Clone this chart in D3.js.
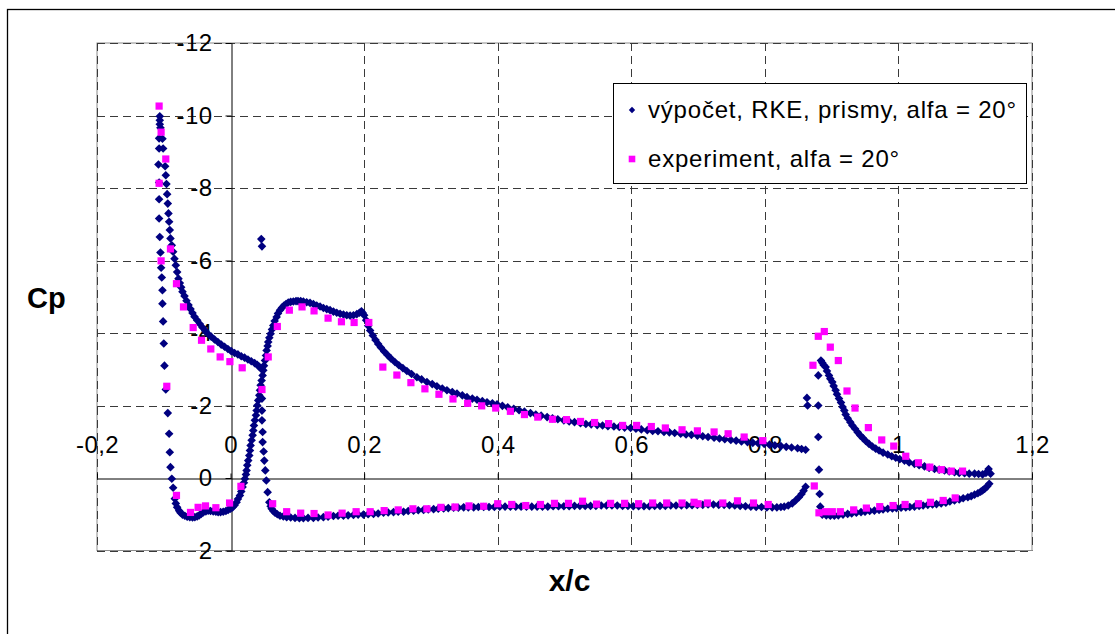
<!DOCTYPE html>
<html>
<head>
<meta charset="utf-8">
<script src="https://cdn.jsdelivr.net/npm/d3@7"></script>
<style>
    body { margin: 0; background: #fff; }
    svg { display: block; font-family: "Liberation Sans", Arial, sans-serif; }
</style>
</head>
<body>
<svg id="chart"></svg>
<script>
const xTicks = [-0.2, 0, 0.2, 0.4, 0.6, 0.8, 1, 1.2];
const yTicks = [-12, -10, -8, -6, -4, -2, 0, 2];
const seriesNames = ["výpočet, RKE, prismy, alfa = 20°", "experiment, alfa = 20°"];

// výpočet (computed) as [x/c, Cp]
const calcSlatUpper = [
    [-0.106,-9.98],[-0.106,-9.87],[-0.106,-9.76],[-0.105,-9.66],[-0.102,-9.36],[-0.101,-9.09],[-0.098,-8.60],
    [-0.097,-8.35],[-0.096,-8.11],[-0.095,-7.83],[-0.094,-7.57],[-0.093,-7.30],[-0.092,-7.07],[-0.091,-6.84],
    [-0.090,-6.61],[-0.088,-6.42],[-0.086,-6.24],[-0.084,-6.05],[-0.082,-5.87],[-0.080,-5.68],[-0.078,-5.50],
    [-0.076,-5.38],[-0.074,-5.26],[-0.072,-5.14],[-0.069,-5.02],[-0.066,-4.89],[-0.063,-4.77],[-0.060,-4.66],
    [-0.057,-4.55],[-0.054,-4.45],[-0.050,-4.35],[-0.046,-4.25],[-0.042,-4.15],[-0.038,-4.06],[-0.034,-3.98],
    [-0.029,-3.90],[-0.024,-3.82],[-0.019,-3.75],[-0.014,-3.68],[-0.009,-3.62],[-0.004,-3.56],[0.001,-3.50],
    [0.006,-3.45],[0.011,-3.41],[0.016,-3.36],[0.021,-3.32],[0.026,-3.27],[0.031,-3.22],[0.036,-3.17],
    [0.040,-3.12],[0.043,-3.07],[0.046,-3.01]
];
const calcSlatLower = [
    [-0.107,-9.37],[-0.107,-9.09],[-0.108,-8.65],[-0.107,-8.15],[-0.107,-7.69],[-0.107,-7.16],[-0.106,-6.65],
    [-0.105,-6.22],[-0.104,-5.80],[-0.103,-5.53],[-0.102,-5.18],[-0.102,-4.81],[-0.101,-4.32],[-0.100,-3.71],
    [-0.099,-3.10],[-0.097,-2.44],[-0.094,-1.79],[-0.092,-1.22],[-0.091,-0.71],[-0.090,-0.30],[-0.088,0.02],
    [-0.086,0.27],[-0.0835,0.57],[-0.082,0.70],[-0.080,0.81],[-0.077,0.90],[-0.075,0.96],[-0.072,1.01],
    [-0.0685,1.04],[-0.065,1.07],[-0.061,1.08],[-0.057,1.09],[-0.0535,1.08],[-0.050,1.06],[-0.047,1.03],
    [-0.044,0.99],[-0.041,0.95],[-0.037,0.92],[-0.0335,0.90],[-0.030,0.91],[-0.026,0.92],[-0.022,0.93],
    [-0.0186,0.94],[-0.015,0.94],[-0.011,0.93],[-0.007,0.91],[-0.0036,0.88]
];
const calcMainUpper = [
    [0.000,0.85],[0.003,0.81],[0.006,0.75],[0.009,0.67],[0.011,0.58],[0.014,0.48],[0.016,0.37],[0.018,0.25],
    [0.020,0.13],[0.0215,0.02],[0.023,-0.10],[0.024,-0.21],[0.025,-0.35],[0.0264,-0.48],[0.028,-0.62],
    [0.029,-0.76],[0.030,-0.90],[0.0315,-1.04],[0.033,-1.18],[0.034,-1.31],[0.035,-1.45],[0.0364,-1.59],
    [0.038,-1.73],[0.039,-1.86],[0.040,-2.00],[0.0414,-2.14],[0.043,-2.28],[0.044,-2.42],[0.045,-2.56],
    [0.0465,-2.69],[0.048,-2.83],[0.049,-2.97],[0.050,-3.10],[0.0515,-3.24],[0.053,-3.38],[0.054,-3.52],
    [0.0555,-3.64],[0.0564,-3.75],[0.058,-3.87],[0.060,-3.98],[0.062,-4.10],[0.064,-4.21],[0.066,-4.33],
    [0.069,-4.44],[0.071,-4.54],[0.074,-4.63],[0.077,-4.70],[0.080,-4.76],[0.083,-4.80],[0.0864,-4.84],
    [0.090,-4.86],[0.094,-4.87],[0.098,-4.88],[0.101,-4.88],[0.105,-4.88],[0.109,-4.87],[0.114,-4.85],
    [0.119,-4.83],[0.124,-4.80],[0.129,-4.76],[0.134,-4.73],[0.139,-4.69],[0.144,-4.66],[0.149,-4.63],
    [0.154,-4.59],[0.159,-4.56],[0.164,-4.53],[0.169,-4.51],[0.174,-4.49],[0.179,-4.48],[0.184,-4.49],
    [0.189,-4.52],[0.193,-4.56],[0.196,-4.60],[0.198,-4.55],[0.200,-4.49],[0.203,-4.35],[0.206,-4.20],
    [0.209,-4.07],[0.213,-3.93],[0.217,-3.81],[0.221,-3.70],[0.225,-3.60],[0.230,-3.49],[0.235,-3.39],
    [0.240,-3.30],[0.246,-3.20],[0.252,-3.11],[0.258,-3.03],[0.264,-2.95],[0.271,-2.87],[0.279,-2.78],
    [0.286,-2.72],[0.294,-2.65],[0.302,-2.59],[0.309,-2.53],[0.317,-2.47],[0.324,-2.42],[0.332,-2.37],
    [0.339,-2.33],[0.347,-2.28],[0.354,-2.23],[0.362,-2.19],[0.369,-2.16],[0.377,-2.12],[0.384,-2.09],
    [0.392,-2.06],[0.399,-2.03],[0.407,-1.99],[0.415,-1.95],[0.424,-1.91],[0.432,-1.87],[0.440,-1.83],
    [0.449,-1.79],[0.457,-1.75],[0.465,-1.72],[0.474,-1.68],[0.482,-1.65],[0.490,-1.62],[0.499,-1.59],
    [0.507,-1.56],[0.515,-1.54],[0.524,-1.51],[0.532,-1.49],[0.540,-1.48],[0.549,-1.46],[0.557,-1.45],
    [0.565,-1.43],[0.574,-1.42],[0.582,-1.41],[0.590,-1.39],[0.599,-1.38],[0.607,-1.36],[0.615,-1.34],
    [0.624,-1.32],[0.632,-1.30],[0.640,-1.29],[0.649,-1.27],[0.657,-1.26],[0.665,-1.24],[0.674,-1.22],
    [0.682,-1.20],[0.690,-1.19],[0.699,-1.17],[0.707,-1.15],[0.715,-1.13],[0.724,-1.11],[0.732,-1.09],
    [0.740,-1.07],[0.749,-1.05],[0.757,-1.03],[0.765,-1.01],[0.774,-0.99],[0.782,-0.97],[0.790,-0.96],
    [0.799,-0.94],[0.807,-0.92],[0.815,-0.90],[0.824,-0.88],[0.832,-0.86],[0.840,-0.84],[0.849,-0.82],
    [0.855,-0.80],[0.861,-0.78]
];
const calcMainLower = [
    [0.046,-6.59],[0.047,-6.39],[0.047,-2.19],[0.047,-1.86],[0.047,-1.59],[0.048,-1.27],[0.048,-0.99],
    [0.0495,-0.73],[0.0505,-0.48],[0.052,-0.21],[0.0535,0.07],[0.0555,0.39],[0.058,0.67],[0.060,0.78],
    [0.0615,0.85],[0.064,0.91],[0.0665,0.96],[0.070,1.00],[0.074,1.04],[0.079,1.06],[0.084,1.08],[0.090,1.09],
    [0.0965,1.10],[0.103,1.11],[0.109,1.11],[0.116,1.10],[0.124,1.10],[0.131,1.09],[0.139,1.08],[0.146,1.07],
    [0.154,1.05],[0.161,1.04],[0.169,1.04],[0.176,1.03],[0.184,1.02],[0.191,1.01],[0.199,1.01],[0.206,1.00],
    [0.214,0.99],[0.221,0.98],[0.229,0.96],[0.236,0.95],[0.244,0.94],[0.251,0.93],[0.259,0.93],[0.266,0.91],
    [0.274,0.90],[0.281,0.89],[0.289,0.88],[0.296,0.87],[0.304,0.86],[0.311,0.85],[0.319,0.84],[0.326,0.83],
    [0.334,0.82],[0.341,0.82],[0.349,0.81],[0.356,0.81],[0.364,0.81],[0.371,0.80],[0.379,0.80],[0.387,0.80],
    [0.395,0.80],[0.403,0.79],[0.411,0.79],[0.419,0.79],[0.427,0.79],[0.435,0.79],[0.443,0.79],[0.451,0.79],
    [0.459,0.79],[0.467,0.79],[0.475,0.79],[0.483,0.78],[0.491,0.78],[0.499,0.78],[0.507,0.78],[0.515,0.77],
    [0.523,0.77],[0.531,0.77],[0.539,0.77],[0.547,0.77],[0.555,0.76],[0.563,0.76],[0.571,0.76],[0.579,0.76],
    [0.587,0.77],[0.595,0.77],[0.603,0.78],[0.611,0.78],[0.619,0.78],[0.627,0.78],[0.635,0.77],[0.643,0.77],
    [0.651,0.77],[0.659,0.76],[0.667,0.76],[0.675,0.76],[0.683,0.75],[0.691,0.75],[0.699,0.74],[0.707,0.74],
    [0.715,0.73],[0.723,0.73],[0.731,0.74],[0.739,0.74],[0.747,0.75],[0.755,0.76],[0.763,0.77],[0.771,0.78],
    [0.779,0.79],[0.787,0.80],[0.795,0.80],[0.803,0.81],[0.811,0.81],[0.818,0.81],[0.824,0.80],[0.829,0.79],
    [0.835,0.76],[0.841,0.70],[0.846,0.62],[0.851,0.53],[0.855,0.44],[0.858,0.35],[0.861,0.24]
];
const calcFlapNose = [
    [0.863,-2.21],[0.864,-2.00],[0.880,-2.83],[0.880,-2.00],[0.880,-1.13],[0.881,-0.23],[0.882,0.44],[0.883,0.79]
];
const calcFlapUpper = [
    [0.884,-3.24],[0.886,-3.18],[0.888,-3.12],[0.891,-3.06],[0.893,-2.95],[0.896,-2.83],[0.898,-2.74],
    [0.901,-2.65],[0.903,-2.54],[0.906,-2.42],[0.908,-2.31],[0.911,-2.19],[0.914,-2.08],[0.9165,-1.96],
    [0.919,-1.86],[0.921,-1.75],[0.924,-1.65],[0.928,-1.54],[0.931,-1.45],[0.935,-1.36],[0.939,-1.26],
    [0.943,-1.17],[0.947,-1.10],[0.951,-1.02],[0.956,-0.94],[0.961,-0.87],[0.966,-0.81],[0.971,-0.76],
    [0.977,-0.70],[0.984,-0.65],[0.990,-0.60],[0.996,-0.56],[1.002,-0.52],[1.009,-0.48],[1.016,-0.43],
    [1.024,-0.39],[1.031,-0.35],[1.039,-0.32],[1.046,-0.28],[1.054,-0.25],[1.061,-0.23],[1.069,-0.21],
    [1.076,-0.18],[1.084,-0.16],[1.091,-0.14],[1.099,-0.13],[1.106,-0.12],[1.114,-0.12],[1.120,-0.11],
    [1.126,-0.10],[1.131,-0.14],[1.135,-0.25],[1.138,-0.12]
];
const calcFlapLower = [
    [0.884,0.96],[0.886,1.01],[0.892,1.03],[0.898,1.04],[0.904,1.04],[0.910,1.03],[0.917,1.01],[0.924,0.99],
    [0.930,0.98],[0.937,0.96],[0.944,0.94],[0.950,0.93],[0.957,0.91],[0.964,0.90],[0.971,0.88],[0.977,0.87],
    [0.984,0.85],[0.991,0.84],[0.997,0.83],[1.004,0.82],[1.011,0.81],[1.017,0.80],[1.024,0.79],[1.031,0.77],
    [1.037,0.76],[1.044,0.74],[1.051,0.73],[1.057,0.72],[1.064,0.70],[1.071,0.68],[1.077,0.65],[1.084,0.62],
    [1.091,0.59],[1.097,0.56],[1.104,0.53],[1.109,0.50],[1.114,0.46],[1.119,0.42],[1.123,0.38],[1.126,0.34],
    [1.129,0.30],[1.133,0.23],[1.136,0.16]
];

// experiment
const expSlat = [
    [-0.107,-10.26],[-0.104,-9.54],[-0.097,-8.80],[-0.107,-8.13],[-0.090,-6.32],[-0.104,-5.99],[-0.081,-5.36],
    [-0.0705,-4.72],[-0.056,-4.15],[-0.0435,-3.80],[-0.0296,-3.56],[-0.0156,-3.34],[-0.001,-3.21],[0.0174,-3.04],
    [-0.0955,-2.53],[-0.081,0.48],[-0.060,0.95],[-0.0486,0.81],[-0.0375,0.77],[-0.022,0.82],[-0.0015,0.69],
    [0.0155,0.23]
];
const expMain = [
    [0.047,-2.44],[0.0564,-3.34],[0.070,-4.18],[0.088,-4.63],[0.107,-4.72],[0.125,-4.61],[0.146,-4.41],
    [0.166,-4.31],[0.185,-4.29],[0.207,-4.29],[0.228,-3.06],[0.249,-2.84],[0.270,-2.63],[0.291,-2.46],
    [0.312,-2.31],[0.333,-2.18],[0.355,-2.06],[0.376,-1.99],[0.397,-1.93],[0.419,-1.84],[0.440,-1.75],
    [0.460,-1.68],[0.482,-1.62],[0.503,-1.61],[0.524,-1.56],[0.545,-1.53],[0.566,-1.50],[0.587,-1.45],
    [0.608,-1.45],[0.630,-1.42],[0.651,-1.38],[0.676,-1.33],[0.699,-1.30],[0.724,-1.27],[0.745,-1.22],
    [0.769,-1.13],[0.797,-1.03],
    [0.063,0.71],[0.084,0.93],[0.105,0.97],[0.125,0.98],[0.146,1.02],[0.167,0.97],[0.188,0.93],[0.209,0.93],
    [0.230,0.90],[0.251,0.88],[0.273,0.85],[0.294,0.85],[0.315,0.81],[0.336,0.80],[0.357,0.77],[0.379,0.78],
    [0.400,0.71],[0.421,0.73],[0.442,0.76],[0.464,0.73],[0.485,0.70],[0.506,0.70],[0.527,0.64],[0.548,0.72],
    [0.569,0.70],[0.590,0.70],[0.611,0.71],[0.632,0.69],[0.653,0.69],[0.676,0.69],[0.694,0.67],[0.700,0.71],
    [0.714,0.69],[0.737,0.69],[0.759,0.63],[0.783,0.69],[0.805,0.73]
];
const expFlap = [
    [0.872,-3.11],[0.880,-3.91],[0.889,-4.04],[0.898,-3.61],[0.910,-3.24],[0.923,-2.40],[0.935,-1.93],
    [0.955,-1.39],[0.975,-1.05],[0.993,-0.88],[1.011,-0.60],[1.030,-0.42],[1.047,-0.30],[1.064,-0.23],
    [1.079,-0.19],[1.096,-0.19],
    [0.874,0.22],[0.881,0.96],[0.891,0.93],[0.901,0.93],[0.913,0.93],[0.933,0.88],[0.952,0.83],[0.972,0.79],
    [0.992,0.76],[1.010,0.73],[1.030,0.71],[1.048,0.67],[1.067,0.62],[1.085,0.55]
];

class CpChart {
    plot = { left: 97, right: 1032, top: 43, bottom: 550.5 };

    constructor(svg, width = 1115, height = 634) {
        this.svg = d3.select(svg);
        this.width = width;
        this.height = height;
        this.calc = [].concat(calcSlatUpper, calcSlatLower, calcMainUpper, calcMainLower,
            calcFlapNose, calcFlapUpper, calcFlapLower);
        this.exp = [].concat(expSlat, expMain, expFlap);
    }

    initialize() {
        this.svg.attr("width", this.width).attr("height", this.height);

        this.x = d3.scaleLinear().domain([-0.2, 1.2]).range([this.plot.left, this.plot.right]);
        this.y = d3.scaleLinear().domain([-12, 2]).range([this.plot.top, this.plot.bottom]);

        // outer chart frame (runs off the right and bottom of the picture)
        this.svg.append("rect")
            .attr("x", 7.5).attr("y", 9.5)
            .attr("width", 1130).attr("height", 650)
            .attr("fill", "#fff").attr("stroke", "#000").attr("stroke-width", 1.3);

        this.addGrid();
        this.addAxes();
        this.addPoints();
        this.addLegend();
        this.addTitles();
    }

    addGrid() {
        const p = this.plot;
        this.svg.append("rect")
            .attr("x", p.left).attr("y", p.top)
            .attr("width", p.right - p.left).attr("height", p.bottom - p.top)
            .attr("fill", "none").attr("stroke", "#8c8c8c");

        const grid = this.svg.append("g")
            .attr("stroke", "#3a3a3a")
            .attr("stroke-dasharray", "8,5");

        grid.selectAll(".vgrid")
            .data(xTicks.filter(d => d !== 0))
            .join("line")
            .attr("x1", d => Math.round(this.x(d)) + 0.5)
            .attr("x2", d => Math.round(this.x(d)) + 0.5)
            .attr("y1", p.top).attr("y2", p.bottom);

        grid.selectAll(".hgrid")
            .data(yTicks.filter(d => d !== 0))
            .join("line")
            .attr("y1", d => Math.round(this.y(d)) + 0.5)
            .attr("y2", d => Math.round(this.y(d)) + 0.5)
            .attr("x1", p.left).attr("x2", p.right);
    }

    addAxes() {
        const fmt = d => String(d).replace(".", ",");

        const yAxis = this.svg.append("g")
            .attr("transform", `translate(${Math.round(this.x(0)) + 0.5},0)`)
            .call(d3.axisLeft(this.y).tickValues(yTicks).tickFormat(fmt)
                .tickSize(6).tickSizeOuter(0).tickPadding(13));

        const xAxis = this.svg.append("g")
            .attr("transform", `translate(0,${Math.round(this.y(0)) + 0.5})`)
            .call(d3.axisTop(this.x).tickValues(xTicks).tickFormat(fmt)
                .tickSize(5).tickSizeOuter(0).tickPadding(23));

        [xAxis, yAxis].forEach(a => {
            a.attr("font-family", null).attr("font-size", null);
            a.selectAll("path, line").attr("stroke", "#000");
            a.selectAll("text")
                .attr("fill", "#000")
                .style("font-size", "24px")
                .style("letter-spacing", "0.4px");
        });
        xAxis.selectAll("text").attr("dy", "0.1em");
    }

    diamond(r) {
        return `M0,${-r}L${r},0L0,${r}L${-r},0Z`;
    }

    addPoints() {
        this.svg.append("g")
            .selectAll("path")
            .data(this.calc)
            .join("path")
            .attr("transform", d => `translate(${this.x(d[0])},${this.y(d[1])})`)
            .attr("d", this.diamond(4.3))
            .attr("fill", "#000080");

        this.svg.append("g")
            .selectAll("rect")
            .data(this.exp)
            .join("rect")
            .attr("x", d => this.x(d[0]) - 3.6)
            .attr("y", d => this.y(d[1]) - 3.6)
            .attr("width", 7.2)
            .attr("height", 7.2)
            .attr("fill", "#ff00ff");
    }

    addLegend() {
        const legend = this.svg.append("g").attr("class", "legend");

        legend.append("rect")
            .attr("x", 613.5).attr("y", 83.5)
            .attr("width", 413).attr("height", 100)
            .attr("fill", "#fff").attr("stroke", "#000");

        const item = legend.selectAll(".legend-item")
            .data(seriesNames)
            .join("g")
            .attr("class", "legend-item")
            .attr("transform", (d, i) => `translate(632,${110 + i * 49})`);

        item.filter((d, i) => i === 0).append("path")
            .attr("d", this.diamond(3.2))
            .attr("fill", "#000080");

        item.filter((d, i) => i === 1).append("rect")
            .attr("x", -3.3).attr("y", -3.3)
            .attr("width", 6.6).attr("height", 6.6)
            .attr("fill", "#ff00ff");

        item.append("text")
            .attr("x", 16)
            .attr("y", 8)
            .style("font-size", "24px")
            .style("letter-spacing", "0.8px")
            .text(d => d);
    }

    addTitles() {
        this.svg.append("text")
            .attr("x", 27).attr("y", 308)
            .style("font-size", "29px").style("font-weight", "bold")
            .text("Cp");

        this.svg.append("text")
            .attr("x", 569.5).attr("y", 591)
            .attr("text-anchor", "middle")
            .style("font-size", "30px").style("font-weight", "bold")
            .text("x/c");
    }
}

const chart = new CpChart(document.getElementById("chart"));
chart.initialize();
</script>
</body>
</html>
